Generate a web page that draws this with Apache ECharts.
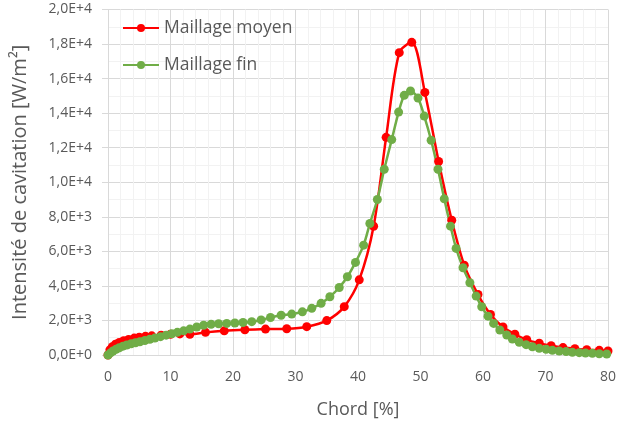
<!DOCTYPE html>
<html>
<head>
<meta charset="utf-8">
<script src="https://cdn.jsdelivr.net/npm/echarts@6/dist/echarts.min.js"></script>
<style>
html,body{margin:0;padding:0;background:#fff;}
#main{width:617px;height:428px;}
</style>
</head>
<body>
<div id="main"></div>
<script>
// Maillage moyen (red)
var moyenX = [0,0.3,0.7,1.2,1.8,2.5,3.3,4.2,5.0,6.0,7.0,8.5,10.0,11.5,13.1,15.6,18.6,21.9,25.2,28.6,31.8,35.0,37.8,40.2,42.5,44.5,46.6,48.6,50.7,52.9,55.0,57.0,59.2,61.2,63.2,65.1,67.0,69.0,70.9,72.8,74.7,76.6,78.6,80.0];
var moyenY = [0,300,480,620,730,830,900,980,1030,1080,1110,1150,1200,1220,1200,1310,1400,1460,1500,1520,1640,1990,2800,4350,7450,12600,17500,18100,15200,11200,7800,5200,3500,2350,1620,1200,880,680,540,430,360,310,270,230];

// Maillage fin (green)
var finX = [0,0.4,0.8,1.3,1.8,2.4,3.0,3.7,4.4,5.1,5.9,6.7,7.5,8.4,9.3,10.2,11.1,12.1,13.1,14.2,15.3,16.5,17.7,19.0,20.3,21.6,23.0,24.5,26.0,27.7,29.4,31.1,32.6,34.1,35.5,37.0,38.3,39.6,40.9,41.9,43.1,44.2,45.4,46.5,47.4,48.4,49.6,50.6,51.7,52.8,53.8,54.8,55.7,56.8,57.9,58.9,59.8,60.8,61.7,62.7,63.8,64.7,65.8,66.9,67.9,69.0,70.1,71.1,72.2,73.3,74.3,75.4,76.4,77.5,78.6,79.8];
var finY = [0,120,230,330,420,510,580,650,710,770,840,910,980,1060,1150,1230,1310,1400,1500,1620,1720,1780,1810,1830,1850,1880,1930,2030,2170,2300,2370,2500,2700,2990,3370,3910,4530,5360,6360,7610,9000,10750,12470,14060,15030,15280,14870,13830,12430,10750,9040,7460,6170,5050,4180,3410,2790,2250,1830,1445,1160,925,734,600,480,385,330,270,230,200,155,135,115,100,75,60];

var seriesNames = ['Maillage moyen', 'Maillage fin'];

function pairs(xs, ys) {
    return xs.map(function (x, i) { return [x, ys[i]]; });
}

function sci(v) {
    if (v === 0) return '0,0E+0';
    var e = Math.floor(Math.log10(v) + 1e-9);
    var m = v / Math.pow(10, e);
    return m.toFixed(1).replace('.', ',') + 'E+' + e;
}

var font = 'Open Sans';
var myChart = echarts.init(document.getElementById('main'));

var option = {
    animation: false,
    textStyle: { fontFamily: font },
    grid: { left: 108, right: 9, top: 9.5, bottom: 73, outerBoundsMode: 'none' },
    legend: {
        orient: 'vertical',
        left: 117,
        top: 14,
        itemWidth: 36,
        itemHeight: 10,
        itemGap: 19,
        textStyle: { fontFamily: font, fontSize: 17.5, color: '#595959' },
        data: seriesNames
    },
    xAxis: {
        type: 'value',
        min: 0, max: 80, interval: 10,
        name: 'Chord [%]',
        nameLocation: 'middle',
        nameGap: 46,
        nameTextStyle: { fontFamily: font, fontSize: 18, color: '#595959' },
        axisLine: { show: true, lineStyle: { color: '#d9d9d9', width: 1 } },
        axisTick: { show: false },
        axisLabel: { fontFamily: font, fontSize: 14, color: '#595959', margin: 15 },
        splitLine: { show: true, lineStyle: { color: '#d9d9d9' } },
        minorTick: { show: false, splitNumber: 5 },
        minorSplitLine: { show: true, lineStyle: { color: '#f2f2f2' } }
    },
    yAxis: {
        type: 'value',
        min: 0, max: 20000, interval: 2000,
        name: 'Intensité de cavitation [W/m²]',
        nameLocation: 'middle',
        nameGap: 78,
        nameTextStyle: { fontFamily: font, fontSize: 20, color: '#595959' },
        axisLine: { show: true, lineStyle: { color: '#d9d9d9', width: 1 } },
        axisTick: { show: true, length: 6, lineStyle: { color: '#d9d9d9' } },
        axisLabel: { fontFamily: font, fontSize: 14, color: '#595959', margin: 16, formatter: sci },
        splitLine: { show: true, lineStyle: { color: '#d9d9d9' } },
        minorTick: { show: false, splitNumber: 2 },
        minorSplitLine: { show: true, lineStyle: { color: '#f2f2f2' } }
    },
    series: [
        {
            name: seriesNames[0],
            type: 'line',
            smooth: 0.3,
            symbol: 'circle',
            symbolSize: 9,
            color: '#ff0000',
            lineStyle: { width: 2.5, color: '#ff0000' },
            itemStyle: { color: '#ff0000' },
            data: pairs(moyenX, moyenY)
        },
        {
            name: seriesNames[1],
            type: 'line',
            smooth: 0.3,
            symbol: 'circle',
            symbolSize: 9,
            color: '#70ad47',
            lineStyle: { width: 2.5, color: '#70ad47' },
            itemStyle: { color: '#70ad47' },
            data: pairs(finX, finY)
        }
    ]
};
myChart.setOption(option);
</script>
</body>
</html>
